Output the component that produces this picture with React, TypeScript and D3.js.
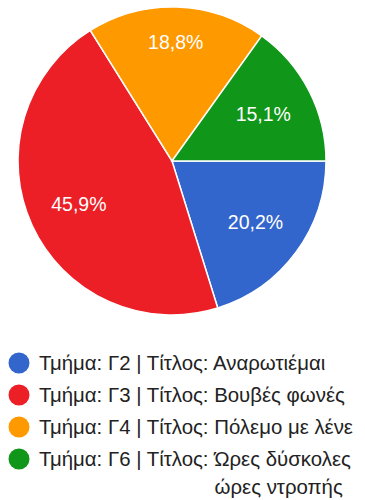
import React from "react";
import * as d3 from "d3";

const categories = ["Γ2", "Γ3", "Γ4", "Γ6"];
const titles = ["Αναρωτιέμαι", "Βουβές φωνές", "Πόλεμο με λένε", "Ώρες δύσκολες ώρες ντροπής"];
const values = [20.2, 45.9, 18.8, 15.1];
const colors = ["#3366cc", "#ec1f27", "#ff9900", "#109618"];

const FONT = "'Liberation Sans', Arial, sans-serif";

function measure(text: string, size: number) {
  const ctx = document.createElement("canvas").getContext("2d")!;
  ctx.font = `${size}px ${FONT}`;
  return ctx.measureText(text).width;
}

function App() {
  const width = 365;
  const height = 500;
  const cx = 172;
  const cy = 161;
  const radius = 154;
  const labelSize = 19.5;
  const legendSize = 20.4;
  const legendTop = 363;
  const rowH = 32;
  const lineH = 28;
  const maxRight = 360;

  const pie = d3.pie<number>().sort(null).startAngle(Math.PI / 2).endAngle(Math.PI / 2 + 2 * Math.PI);
  const arcs = pie(values);
  const arc = d3.arc<d3.PieArcDatum<number>>().innerRadius(0).outerRadius(radius);
  const fmt = d3.formatLocale({ decimal: ",", thousands: ".", grouping: [3], currency: ["", "€"] }).format(".1f");

  // labels: far corner of the text box sits at 0.85 r
  const R = radius * 0.85;
  const labels = arcs.map((a) => {
    const text = fmt(a.data) + "%";
    const w = measure(text, labelSize);
    const h = labelSize * 0.8;
    const mid = (a.startAngle + a.endAngle) / 2;
    const ux = Math.abs(Math.sin(mid));
    const uy = Math.abs(Math.cos(mid));
    const b = ux * w + uy * h;
    const c = (w * w + h * h) / 4 - R * R;
    const dist = (-b + Math.sqrt(b * b - 4 * c)) / 2;
    return { text, x: cx + dist * Math.sin(mid), y: cy - dist * Math.cos(mid) };
  });

  // legend rows with wrapping of the title
  let y = legendTop;
  const textX = 39;
  const rows = categories.map((cat, i) => {
    const prefix = `Τμήμα: ${cat} | Τίτλος: `;
    const px = textX + measure(prefix, legendSize);
    const words = titles[i].split(" ");
    const lines: string[] = [];
    let cur = "";
    words.forEach((w) => {
      const trial = cur ? cur + " " + w : w;
      if (cur && px + measure(trial, legendSize) > maxRight) {
        lines.push(cur);
        cur = w;
      } else cur = trial;
    });
    lines.push(cur);
    const row = { prefix, px, lines, y, color: colors[i] };
    y += rowH + (lines.length - 1) * lineH;
    return row;
  });

  return (
    <svg width={width} height={height} style={{ position: "absolute", left: 0, top: 0 }} fontFamily={FONT}>
      <rect width={width} height={height} fill="#fff" />
      <g transform={`translate(${cx},${cy})`}>
        {arcs.map((a, i) => (
          <path key={i} d={arc(a)!} fill={colors[i]} stroke="#fff" strokeWidth={1.5} />
        ))}
      </g>
      {labels.map((l, i) => (
        <text key={i} x={l.x} y={l.y} dy="0.35em" textAnchor="middle" fill="#fff" fontSize={labelSize}>
          {l.text}
        </text>
      ))}
      {rows.map((r, i) => (
        <g key={i}>
          <circle cx={19} cy={r.y} r={10.5} fill={r.color} />
          <text x={textX} y={r.y} dy="0.35em" fontSize={legendSize} fill="#222">
            {r.prefix + r.lines[0]}
          </text>
          {r.lines.slice(1).map((ln, j) => (
            <text key={j} x={r.px} y={r.y + (j + 1) * lineH} dy="0.35em" fontSize={legendSize} fill="#222">
              {ln}
            </text>
          ))}
        </g>
      ))}
    </svg>
  );
}

export default App;
